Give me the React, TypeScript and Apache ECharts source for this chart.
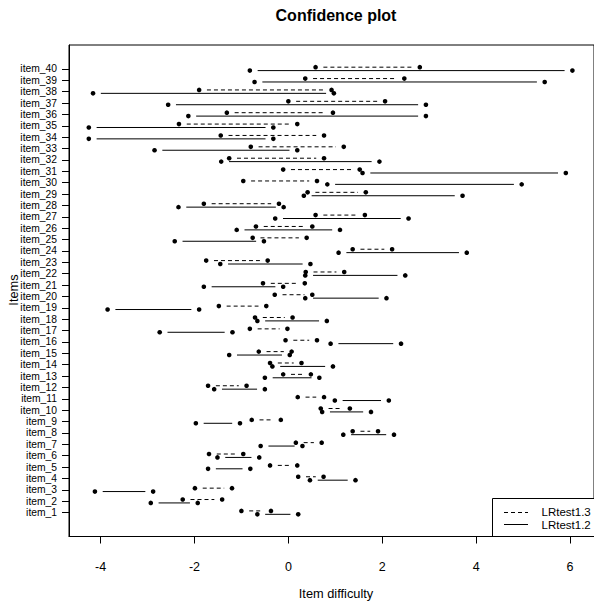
import React, { useEffect, useRef } from "react";
import * as echarts from "echarts";

// Items (1..40) shown on the y axis
const items = [
  1, 2, 3, 4, 5, 6, 7, 8, 9, 10, 11, 12, 13, 14, 15, 16, 17, 18, 19, 20,
  21, 22, 23, 24, 25, 26, 27, 28, 29, 30, 31, 32, 33, 34, 35, 36, 37, 38, 39, 40,
];

// LRtest1.3 (dashed) confidence limits
const lr13Lower = [
  -1.0, -2.25, -1.99, 0.21, -0.39, -1.69, 0.16, 1.37, -0.78, 0.69,
  0.2, -1.71, -0.11, -0.39, -0.63, -0.06, -0.82, -0.71, -1.48, -0.29,
  -0.54, 0.37, -1.75, 1.37, -0.76, -0.69, 0.58, -1.8, 0.41, -0.96,
  -0.11, -1.26, -0.8, -1.44, -2.33, -1.31, 0.0, -1.9, 0.36, 0.58,
];
const lr13Upper = [
  -0.37, -1.41, -1.2, 0.75, 0.19, -0.96, 0.71, 1.91, -0.16, 1.31,
  0.76, -0.89, 0.48, 0.28, 0.07, 0.61, -0.02, 0.09, -0.47, 0.51,
  0.35, 1.19, -0.44, 2.21, 0.39, 0.51, 1.63, -0.2, 1.65, 0.61,
  1.52, 0.76, 1.18, 0.76, 0.19, 0.95, 2.06, 0.92, 2.47, 2.8,
];

// LRtest1.2 (solid) confidence limits
const lr12Lower = [
  -0.66, -2.93, -4.12, 0.46, -1.71, -1.51, -0.59, 1.17, -1.97, 0.72,
  0.99, -1.58, -0.5, -0.34, -1.26, 0.9, -2.74, -0.66, -3.85, 0.36,
  -1.8, 0.36, -1.45, 1.07, -2.42, -1.1, -0.28, -2.34, 0.33, 0.83,
  1.58, -1.43, -2.85, -4.25, -4.25, -2.13, -2.56, -4.16, -0.72, -0.82,
];
const lr12Upper = [
  0.21, -1.93, -2.88, 1.43, -0.81, -0.62, 0.3, 2.25, -1.03, 1.76,
  2.14, -0.5, 0.66, 0.95, 0.03, 2.4, -1.19, 0.82, -1.9, 2.09,
  -0.11, 2.49, 0.47, 3.8, -0.52, 1.1, 2.56, -0.1, 3.71, 4.97,
  5.91, 1.94, 0.19, -0.32, -0.32, 2.93, 2.93, 0.97, 5.46, 6.05,
];

const xTicks = [-4, -2, 0, 2, 4, 6];
const seriesNames = ["LRtest1.3", "LRtest1.2"];

const FONT = "Liberation Sans, Arial, Helvetica, sans-serif";

function makeRenderer(dashed: boolean) {
  return (_params: any, api: any) => {
    const lo = api.value(0);
    const hi = api.value(1);
    const yv = api.value(2);
    const a = api.coord([lo, yv]);
    const b = api.coord([hi, yv]);
    const gap = 7.8;
    const children: any[] = [];
    if (b[0] - a[0] > 2 * gap) {
      children.push({
        type: "line",
        shape: { x1: a[0] + gap, y1: a[1], x2: b[0] - gap, y2: b[1] },
        style: { stroke: "#000", lineWidth: 1, lineDash: dashed ? [4, 3] : null, fill: null },
      });
    }
    children.push({ type: "circle", shape: { cx: a[0], cy: a[1], r: 2.3 }, style: { fill: "#000" } });
    children.push({ type: "circle", shape: { cx: b[0], cy: b[1], r: 2.3 }, style: { fill: "#000" } });
    return { type: "group", children };
  };
}

export default function App() {
  const ref = useRef<HTMLDivElement>(null);
  useEffect(() => {
    if (!ref.current) return;
    const chart = echarts.init(ref.current, null, { renderer: "svg" });
    const dashedData = items.map((it, i) => [lr13Lower[i], lr13Upper[i], it + 0.15]);
    const solidData = items.map((it, i) => [lr12Lower[i], lr12Upper[i], it - 0.15]);

    chart.setOption({
      animation: false,
      backgroundColor: "#fff",
      textStyle: { fontFamily: FONT },
      grid: {
        left: 69,
        top: 45,
        width: 535.6,
        height: 491.5,
        show: true,
        borderColor: "#000",
        borderWidth: 1,
        backgroundColor: "transparent",
      },
      xAxis: {
        type: "value",
        min: -4.672,
        max: 6.51,
        axisLine: { show: true, onZero: false, lineStyle: { color: "#000", width: 1 } },
        axisTick: { show: true, length: 7, customValues: xTicks, lineStyle: { color: "#000" } },
        axisLabel: {
          customValues: xTicks,
          color: "#000",
          fontSize: 12.5,
          fontFamily: FONT,
          margin: 24,
        },
        splitLine: { show: false },
      },
      yAxis: {
        type: "value",
        min: -1.1,
        max: 42.1,
        axisLine: { show: true, onZero: false, lineStyle: { color: "#000", width: 1 } },
        axisTick: { show: true, length: 7, customValues: items, lineStyle: { color: "#000" } },
        axisLabel: {
          customValues: items,
          formatter: (v: number) => "item_" + v,
          color: "#000",
          fontSize: 10.3,
          fontFamily: FONT,
          margin: 12,
        },
        splitLine: { show: false },
      },
      series: [
        {
          name: seriesNames[0],
          type: "custom",
          renderItem: makeRenderer(true),
          encode: { x: [0, 1], y: 2 },
          data: dashedData,
          clip: false,
        },
        {
          name: seriesNames[1],
          type: "custom",
          renderItem: makeRenderer(false),
          encode: { x: [0, 1], y: 2 },
          data: solidData,
          clip: false,
        },
      ],
      graphic: [
        {
          type: "text",
          x: 336,
          y: 15,
          style: {
            text: "Confidence plot",
            fontFamily: FONT,
            fontSize: 16,
            fontWeight: "bold",
            fill: "#000",
            textAlign: "center",
            textVerticalAlign: "middle",
          },
        },
        {
          type: "text",
          x: 336,
          y: 593,
          style: {
            text: "Item difficulty",
            fontFamily: FONT,
            fontSize: 12.8,
            fill: "#000",
            textAlign: "center",
            textVerticalAlign: "middle",
          },
        },
        {
          type: "text",
          x: 13,
          y: 290,
          rotation: Math.PI / 2,
          style: {
            text: "Items",
            fontFamily: FONT,
            fontSize: 12.8,
            fill: "#000",
            textAlign: "center",
            textVerticalAlign: "middle",
          },
        },
        {
          type: "rect",
          shape: { x: 492.5, y: 498.5, width: 130, height: 38 },
          style: { fill: "#fff", stroke: "#000", lineWidth: 1 },
        },
        {
          type: "line",
          shape: { x1: 504, y1: 512.5, x2: 528, y2: 512.5 },
          style: { stroke: "#000", lineWidth: 1, lineDash: [4, 3] },
        },
        {
          type: "line",
          shape: { x1: 504, y1: 524.5, x2: 528, y2: 524.5 },
          style: { stroke: "#000", lineWidth: 1 },
        },
        {
          type: "text",
          x: 541.5,
          y: 512,
          style: {
            text: seriesNames[0],
            fontFamily: FONT,
            fontSize: 11.5,
            fill: "#000",
            textAlign: "left",
            textVerticalAlign: "middle",
          },
        },
        {
          type: "text",
          x: 541.5,
          y: 524.5,
          style: {
            text: seriesNames[1],
            fontFamily: FONT,
            fontSize: 11.5,
            fill: "#000",
            textAlign: "left",
            textVerticalAlign: "middle",
          },
        },
      ],
    });
    return () => chart.dispose();
  }, []);
  return (
    <div
      ref={ref}
      style={{ position: "fixed", left: 0, top: 0, width: 594, height: 603, background: "#fff" }}
    />
  );
}
